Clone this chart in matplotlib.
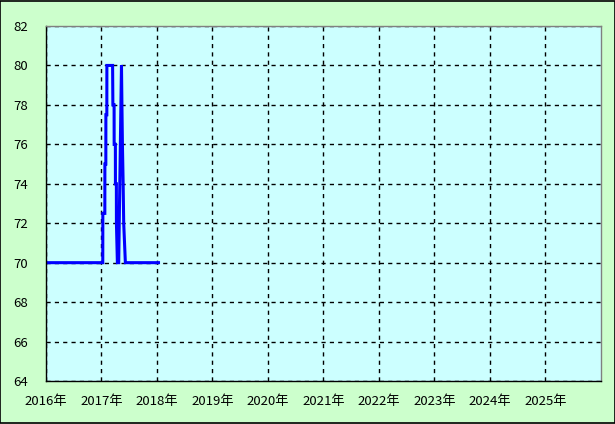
import matplotlib
matplotlib.use("Agg")
import matplotlib.pyplot as plt
from matplotlib.patches import Rectangle

plt.rcParams['font.family'] = ['Noto Sans CJK JP', 'DejaVu Sans']

# decimal-year positions and values
t = [2016.00, 2017.023, 2017.024, 2017.06, 2017.061, 2017.078, 2017.079, 2017.096,
     2017.097, 2017.20, 2017.205, 2017.227, 2017.228, 2017.25, 2017.251, 2017.268,
     2017.269, 2017.286, 2017.31, 2017.322, 2017.335, 2017.347, 2017.36, 2017.368,
     2017.377, 2017.39, 2017.40, 2017.415, 2017.43, 2018.027]
values = [70, 70, 72.5, 72.5, 75, 75, 77.5, 77.5,
          80, 80, 78, 78, 76, 76, 74, 74,
          72, 70, 70, 72.5, 75, 77.5, 80, 78,
          76, 74, 72, 71, 70, 70]

years = list(range(2016, 2026))
year_labels = [f"{y}年" for y in years]
yticks = list(range(64, 83, 2))

fig = plt.figure(figsize=(6.15, 4.24), dpi=100, facecolor='#CCFFCC')
ax = fig.add_axes([46/615, (424-381)/424, (601-46)/615, (381-26)/424])
ax.set_facecolor('#CCFFFF')

ax.plot(t, values, color='#0000FF', linewidth=2.2, solid_joinstyle='miter')

ax.set_xlim(2016, 2026)
ax.set_ylim(64, 82)
ax.set_xticks(years)
ax.set_xticklabels(year_labels)
ax.set_yticks(yticks)
ax.tick_params(axis='both', length=0, labelsize=9.5, colors='black')
ax.tick_params(axis='x', pad=10)
ax.tick_params(axis='y', pad=13)

ax.grid(True, color='black', linestyle=(0, (3, 3)), linewidth=1)
ax.set_axisbelow(True)

for s in ['left', 'bottom']:
    ax.spines[s].set_color('black')
    ax.spines[s].set_linewidth(1)
for s in ['top', 'right']:
    ax.spines[s].set_color('#808080')
    ax.spines[s].set_linewidth(1)

fig.patches.append(Rectangle((0.0008, 0.0012), 0.9984, 0.9976, transform=fig.transFigure,
                             fill=False, edgecolor='black', linewidth=1.2))

fig.savefig('out.png', dpi=100, facecolor=fig.get_facecolor())
